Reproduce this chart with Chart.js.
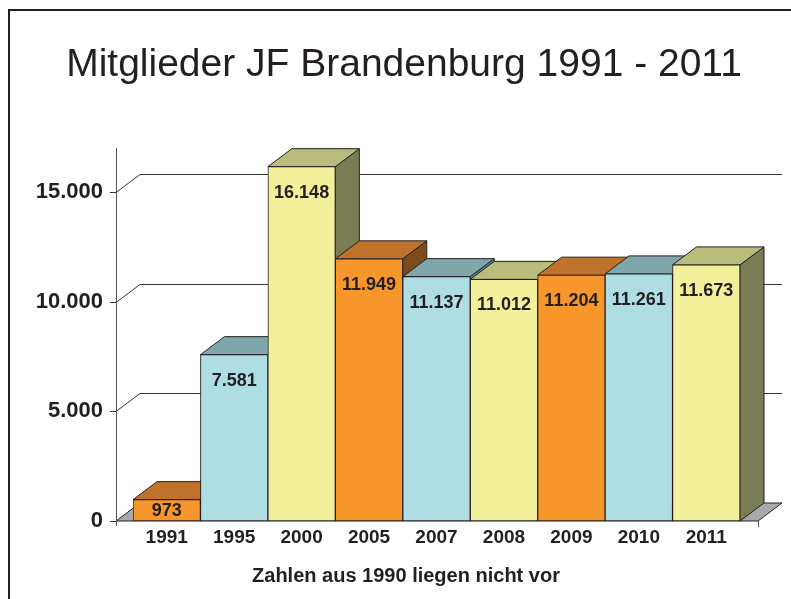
<!DOCTYPE html>
<html>
<head>
<meta charset="utf-8">
<script src="https://cdn.jsdelivr.net/npm/chart.js@4/dist/chart.umd.min.js"></script>
<style>
  html, body { margin: 0; padding: 0; background: #fff; }
  #wrap { width: 791px; height: 599px; }
</style>
</head>
<body>
<div id="wrap"><canvas id="chart" width="791" height="599"></canvas></div>
<script>
// data
const years = ['1991', '1995', '2000', '2005', '2007', '2008', '2009', '2010', '2011'];
const members = [973, 7581, 16148, 11949, 11137, 11012, 11204, 11261, 11673];
const yTicks = [0, 5000, 10000, 15000];
const titleText = 'Mitglieder JF Brandenburg 1991 - 2011';
const captionText = 'Zahlen aus 1990 liegen nicht vor';

// orange, blue, yellow repeating
const frontColors = ['#f7962b', '#aedde3', '#f2f09b'];
const topColors = ['#bf7229', '#7fa6aa', '#b9bd7c'];
const sideColors = ['#7b4b1c', '#5f8589', '#797c55'];

const ink = '#231f20';
const fontFamily = '"Liberation Sans", Arial, Helvetica, sans-serif';
const depthX = 24;
const depthY = 18;

function fmt(v) {
    return String(v).replace(/\B(?=(\d{3})+(?!\d))/g, '.');
}

Chart.defaults.font.family = fontFamily;
Chart.defaults.color = ink;

const frame3d = {
    id: 'frame3d',
    beforeDraw(chart) {
        const ctx = chart.ctx;
        ctx.save();
        // outer frame (left + top only)
        ctx.strokeStyle = ink;
        ctx.lineWidth = 2;
        ctx.beginPath();
        ctx.moveTo(9, chart.height);
        ctx.lineTo(9, 10);
        ctx.lineTo(chart.width, 10);
        ctx.stroke();

        // title and caption
        ctx.fillStyle = ink;
        ctx.textAlign = 'center';
        ctx.textBaseline = 'alphabetic';
        ctx.font = '39px ' + fontFamily;
        ctx.fillText(titleText, 404, 76);
        ctx.font = 'bold 20px ' + fontFamily;
        ctx.fillText(captionText, 406, 582);
        ctx.restore();
    },
    beforeDatasetsDraw(chart) {
        const ctx = chart.ctx;
        const area = chart.chartArea;
        const yScale = chart.scales.y;
        const axisX = area.left - 17;
        const floorRight = area.right + 18;
        const zero = yScale.getPixelForValue(0);
        ctx.save();

        // floor
        ctx.fillStyle = '#a7a9ac';
        ctx.beginPath();
        ctx.moveTo(axisX, zero);
        ctx.lineTo(axisX + depthX, zero - depthY);
        ctx.lineTo(floorRight + depthX, zero - depthY);
        ctx.lineTo(floorRight, zero);
        ctx.closePath();
        ctx.fill();
        ctx.strokeStyle = ink;
        ctx.lineWidth = 1;
        ctx.stroke();

        // grid lines: front tick, diagonal, back line
        ctx.strokeStyle = '#333';
        yTicks.forEach(v => {
            const y = Math.round(yScale.getPixelForValue(v)) + 0.5;
            ctx.beginPath();
            ctx.moveTo(axisX - 6, y);
            ctx.lineTo(axisX, y);
            if (v !== 0) {
                ctx.lineTo(axisX + depthX, y - depthY);
                ctx.lineTo(floorRight + depthX, y - depthY);
            }
            ctx.stroke();
        });

        // axis lines
        ctx.strokeStyle = '#555';
        ctx.beginPath();
        ctx.moveTo(axisX + 0.5, area.top);
        ctx.lineTo(axisX + 0.5, zero + 5);
        ctx.moveTo(floorRight + 0.5, zero);
        ctx.lineTo(floorRight + 0.5, zero + 6);
        ctx.stroke();

        // top and side faces of each bar
        const meta = chart.getDatasetMeta(0);
        ctx.strokeStyle = ink;
        ctx.lineJoin = 'round';
        meta.data.forEach((bar, i) => {
            const p = bar.getProps(['x', 'y', 'base', 'width'], true);
            const left = p.x - p.width / 2;
            const right = p.x + p.width / 2;
            const k = i % 3;

            ctx.fillStyle = sideColors[k];
            ctx.beginPath();
            ctx.moveTo(right, p.y);
            ctx.lineTo(right + depthX, p.y - depthY);
            ctx.lineTo(right + depthX, p.base - depthY);
            ctx.lineTo(right, p.base);
            ctx.closePath();
            ctx.fill();
            ctx.stroke();

            ctx.fillStyle = topColors[k];
            ctx.beginPath();
            ctx.moveTo(left, p.y);
            ctx.lineTo(left + depthX, p.y - depthY);
            ctx.lineTo(right + depthX, p.y - depthY);
            ctx.lineTo(right, p.y);
            ctx.closePath();
            ctx.fill();
            ctx.stroke();
        });
        ctx.restore();
    },
    afterDatasetsDraw(chart) {
        const ctx = chart.ctx;
        const meta = chart.getDatasetMeta(0);
        ctx.save();
        ctx.fillStyle = ink;
        ctx.font = 'bold 18px ' + fontFamily;
        ctx.textAlign = 'center';
        ctx.textBaseline = 'middle';
        meta.data.forEach((bar, i) => {
            const p = bar.getProps(['x', 'y', 'base'], true);
            const ly = Math.min(p.y + 26, (p.y + p.base) / 2 + 1);
            ctx.fillText(fmt(members[i]), p.x, ly);
        });
        ctx.restore();
    }
};

new Chart(document.getElementById('chart'), {
    type: 'bar',
    data: {
        labels: years,
        datasets: [{
            data: members,
            backgroundColor: years.map((_, i) => frontColors[i % 3]),
            borderColor: ink,
            borderWidth: 1,
            borderSkipped: false,
            barPercentage: 1,
            categoryPercentage: 1
        }]
    },
    options: {
        responsive: false,
        animation: false,
        layout: { padding: { left: 0, right: 51, top: 148, bottom: 0 } },
        plugins: {
            legend: { display: false },
            tooltip: { enabled: false },
            title: { display: false }
        },
        scales: {
            x: {
                grid: { display: false, drawTicks: false },
                border: { display: false },
                ticks: { font: { size: 19, weight: 'bold' }, padding: 5, color: ink, maxRotation: 0 },
                afterFit(scale) { scale.height = 78; }
            },
            y: {
                min: 0,
                max: 17000,
                grid: { display: false, drawTicks: false },
                border: { display: false },
                afterBuildTicks(scale) {
                    scale.ticks = yTicks.map(v => ({ value: v }));
                },
                ticks: {
                    font: { size: 22, weight: 'bold' },
                    padding: 30,
                    color: ink,
                    callback: v => fmt(v)
                },
                afterFit(scale) { scale.width = 133; }
            }
        }
    },
    plugins: [frame3d]
});
</script>
</body>
</html>
